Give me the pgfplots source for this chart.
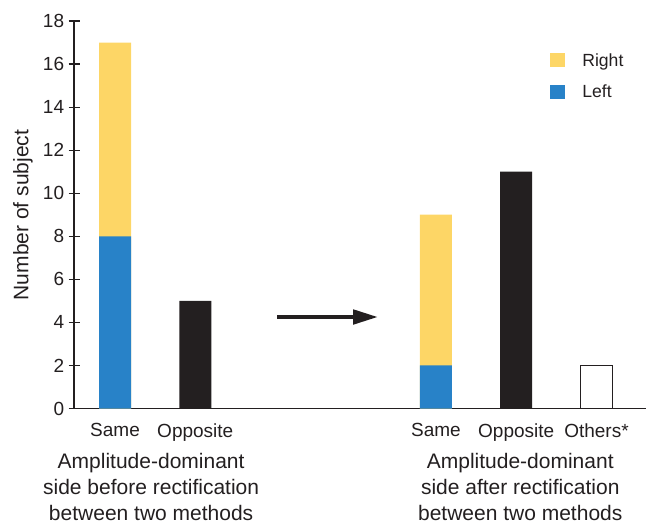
\documentclass[border=0pt]{standalone}
\usepackage{pgfplots}
\pgfplotsset{compat=1.18}
\usepackage{fontspec}
\setmainfont{Liberation Sans}
\usetikzlibrary{arrows.meta}
\definecolor{cyellow}{RGB}{253,214,102}
\definecolor{cblue}{RGB}{40,130,200}
\definecolor{cblack}{RGB}{35,31,32}
\begin{document}
\begin{tikzpicture}
\useasboundingbox (-37pt,-60.75pt) rectangle (287pt,204.25pt);
\begin{axis}[
  at={(0,0)}, anchor=south west,
  scale only axis, width=286pt, height=193.75pt,
  xmin=-0.511, xmax=6.617, ymin=0, ymax=18,
  clip=false,
  axis x line=bottom, axis y line=left,
  axis line style={-, line width=0.6pt, cblack},
  ytick={0,2,...,18},
  xtick={0,1,4,5,6},
  xticklabels={Same,Opposite,Same,Opposite,Others*},
  x tick style={draw=none},
  y tick style={line width=0.6pt, cblack},
  tick align=center, major tick length=5.5pt,
  ticklabel style={font=\fontsize{9.5}{11}\selectfont, text=cblack},
  xticklabel style={anchor=north, inner sep=0pt, yshift=-1.75pt},
  yticklabel style={anchor=east, inner sep=0pt, xshift=-2pt},
  /pgf/number format/assume math mode=true,
  ybar, bar width=16pt,
  legend style={at={(axis cs:5.42,16.51)}, anchor=north west, draw=none, fill=none,
    inner sep=0pt, row sep=7.7pt, column sep=8.5pt,
    font=\fontsize{8.8}{10}\selectfont, text=cblack, nodes={inner sep=0pt}},
  legend cell align=left,
  legend image code/.code={\fill[#1] (0pt,-3pt) rectangle (7.5pt,4pt);},
]
% Right (stacked on Left): totals 17 = 8+9, 9 = 2+7
\addplot[fill=cyellow, draw=none, bar shift=0pt] coordinates {(0,17) (4,9)};
\addlegendentry{Right}
% Left
\addplot[fill=cblue, draw=none, bar shift=0pt] coordinates {(0,8) (4,2)};
\addlegendentry{Left}
% Opposite
\addplot[fill=cblack, draw=none, bar shift=0pt, forget plot] coordinates {(1,5) (5,11)};
% Others*
\addplot[fill=white, draw=cblack, line width=0.5pt, bar shift=0pt, forget plot] coordinates {(6,2)};

\draw[cblack, line width=2.3pt, -{Triangle[length=12.5pt,width=7pt]}] (axis cs:2.02,4.25) -- (axis cs:3.28,4.25);

\node[anchor=north, align=center, inner sep=0pt, text=cblack, font=\fontsize{10.5}{13}\selectfont]
  at (axis cs:0.45,0) [yshift=-22.25pt] {Amplitude-dominant\\side before rectification\\between two methods};
\node[anchor=north, align=center, inner sep=0pt, text=cblack, font=\fontsize{10.5}{13}\selectfont]
  at (axis cs:5.05,0) [yshift=-22.25pt] {Amplitude-dominant\\side after rectification\\between two methods};
\end{axis}
\node[rotate=90, anchor=center, inner sep=0pt, text=cblack, font=\fontsize{10.5}{12}\selectfont]
  at (-25.5pt,96.75pt) {Number of subject};
\end{tikzpicture}
\end{document}
